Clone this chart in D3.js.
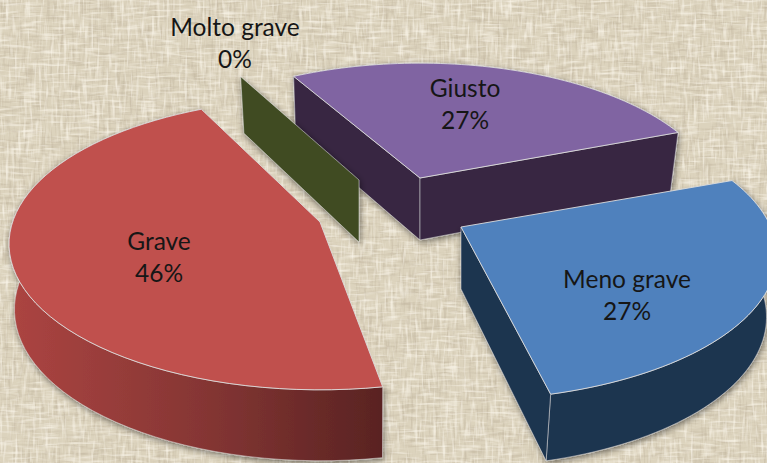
<!DOCTYPE html>
<html><head><meta charset="utf-8">
<script src="https://cdn.jsdelivr.net/npm/d3@7"></script>
<style>html,body{margin:0;padding:0;background:#dcd3bd;overflow:hidden}svg{display:block}text{font-family:Lato,"Open Sans",sans-serif;font-size:24.5px;fill:#161616;text-anchor:middle}</style>
</head><body><div id="chart"></div>
<script>
// Data
const categories = ["Giusto", "Meno grave", "Grave", "Molto grave"];
const values = [27, 27, 46, 0];
const percentLabels = ["27%", "27%", "46%", "0%"];
// Styling / layout, per category
const topColors = ["#8064a2", "#4f81bd", "#c0504d", "#9bbb59"];
const wallColors = ["#372742", "#1f3550", "url(#graveWall)", "#3f4c23"];
const apexes = [[420,178],[461,227],[320,222],[359,180]];
const radiusScale = [1, 1.05, 1.042, 1];
const heightScale = [1, 1.02, 1.04, 1];
const depthScale = [1, 0.98, 1.04, 1];
const baseShrink = [0.975, 0.975, 0.985, 0.975];
const perspective = [0.193, 0.193, 0.151, 0.193];
const startTrim = [-2, 0, 3.6, 0];
const endTrim = [0, 0, 2, 0];
const labelAt = [[465,89],[627,280],[159,242],[235,28]];
const drawOrder = [0,3,2,1];

const W=767,H=463,R=295,RY=137,DEPTH=62,VX=370;
const svg=d3.select("#chart").append("svg").attr("width",W).attr("height",H);
const defs=svg.append("defs");
const g=defs.append("linearGradient").attr("id","graveWall").attr("gradientUnits","userSpaceOnUse").attr("x1",15).attr("x2",383).attr("y1",0).attr("y2",0);
g.append("stop").attr("offset",0).attr("stop-color","#ab4441");
g.append("stop").attr("offset",0.5).attr("stop-color","#863634");
g.append("stop").attr("offset",1).attr("stop-color","#592322");
const f=defs.append("filter").attr("id","shadow").attr("x","-10%").attr("y","-10%").attr("width","120%").attr("height","120%");
f.append("feDropShadow").attr("dx",1).attr("dy",2).attr("stdDeviation",3).attr("flood-color","#000").attr("flood-opacity",.5);

function linen(id,freq,seed,slope,col){
  const t=defs.append("filter").attr("id",id).attr("x",0).attr("y",0).attr("width","100%").attr("height","100%");
  t.append("feTurbulence").attr("type","fractalNoise").attr("baseFrequency",freq).attr("numOctaves",2).attr("seed",seed);
  t.append("feColorMatrix").attr("type","matrix").attr("values",`0 0 0 0 ${col[0]} 0 0 0 0 ${col[1]} 0 0 0 0 ${col[2]} ${slope} 0 0 0 ${-slope*0.5}`);
}
linen("linH","0.045 0.36",3,2.8,[.55,.48,.36]);
linen("linV","0.36 0.045",8,2.8,[.55,.48,.36]);
linen("linH2","0.05 0.33",11,2.8,[.97,.93,.84]);
linen("linV2","0.33 0.05",17,2.8,[.97,.93,.84]);
svg.append("rect").attr("width",W).attr("height",H).attr("fill","#dcd3bd");
["linH","linV","linH2","linV2"].forEach(id=>svg.append("rect").attr("width",W).attr("height",H).attr("filter",`url(#${id})`).attr("opacity",.68));

const pie=d3.pie().sort(null).startAngle(-28*Math.PI/180).endAngle(332*Math.PI/180);
const arcs=pie(values);
function topPoint(i,a){
  const X=Math.sin(a),Y=-Math.cos(a),s=1/(1-perspective[i]*Y),r=R*radiusScale[i];
  const ry=RY*heightScale[i];
  return [apexes[i][0]+r*X*s, apexes[i][1]+ry*Y*s, Y];
}
const drop=(p,Y,i)=>[VX+(p[0]-VX)*baseShrink[i], p[1]+DEPTH*depthScale[i]*(1+0.1*Y)];
const botPoint=(i,a)=>{const p=topPoint(i,a);return drop(p,p[2],i);};
const apexBot=i=>[apexes[i][0],apexes[i][1]+DEPTH];
const line=d3.line();
const span=(a,b)=>d3.range(0,61).map(t=>a+(b-a)*t/60);
const chart=svg.append("g");
drawOrder.forEach(i=>{
  const a0=arcs[i].startAngle+startTrim[i]*Math.PI/180,a1=arcs[i].endAngle+endTrim[i]*Math.PI/180;
  const sl=chart.append("g").attr("class","slice");
  const walls=sl.append("g").attr("filter","url(#shadow)");
  const wall=d=>walls.append("path").attr("d",line(d)+"Z").attr("fill",wallColors[i]).attr("stroke","#dcdcdc").attr("stroke-width",.7).attr("stroke-opacity",.75).attr("stroke-linejoin","round");
  const T=a=>topPoint(i,a).slice(0,2);
  if(a1>a0){
    const as=span(a0,a1);
    wall(as.map(T).concat(as.slice().reverse().map(a=>botPoint(i,a))));
  }
  if(i===3) wall([apexes[i],T(a0),botPoint(i,a0),apexBot(i)]);
  if(i===0) wall([T(a0),apexes[i],apexBot(i),botPoint(i,a0)]);
  if(i===0||i===1) wall([apexes[i],T(a1),botPoint(i,a1),apexBot(i)]);
  if(a1>a0){
    sl.append("path").attr("d",line([apexes[i]].concat(span(a0,a1).map(T)))+"Z").attr("fill",topColors[i]).attr("stroke","#dcdcdc").attr("stroke-width",.9).attr("stroke-linejoin","round");
  }
});
categories.forEach((c,i)=>{
  const t=svg.append("text").attr("x",labelAt[i][0]).attr("y",labelAt[i][1]+8);
  t.append("tspan").attr("x",labelAt[i][0]).text(c);
  t.append("tspan").attr("x",labelAt[i][0]).attr("dy",32).text(percentLabels[i]);
});
</script></body></html>
